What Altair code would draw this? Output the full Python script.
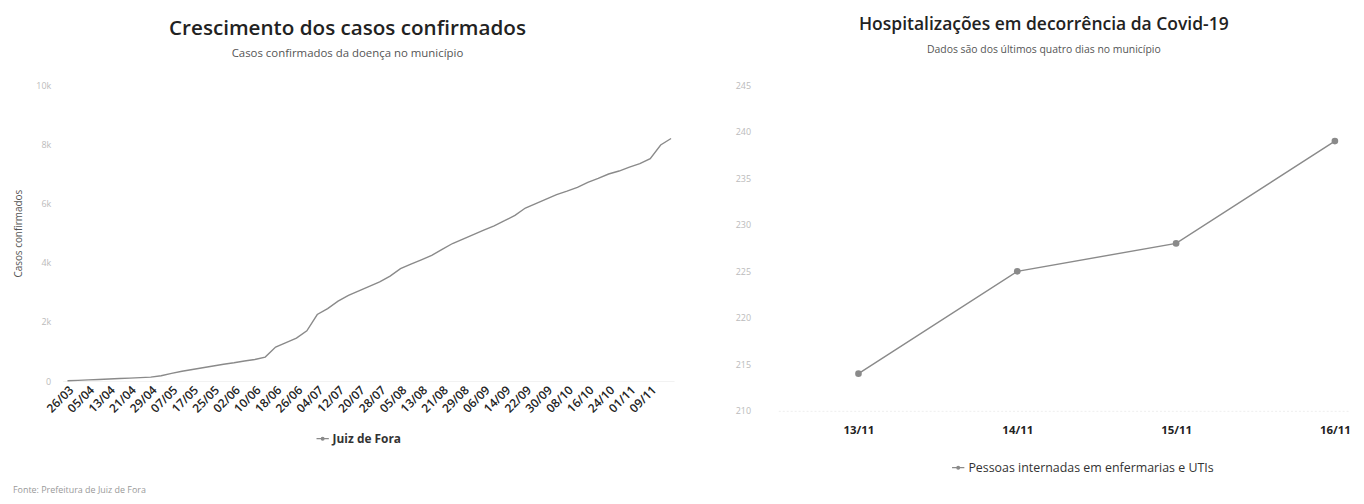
import altair as alt
import pandas as pd

# ---------- Left chart data ----------
datas = ["26/03", "30/03", "05/04", "09/04", "13/04", "17/04", "21/04", "25/04",
         "29/04", "03/05", "07/05", "12/05", "17/05", "21/05", "25/05", "29/05",
         "02/06", "06/06", "10/06", "14/06", "18/06", "22/06", "26/06", "30/06",
         "04/07", "08/07", "12/07", "16/07", "20/07", "24/07", "28/07", "01/08",
         "05/08", "09/08", "13/08", "17/08", "21/08", "25/08", "29/08", "02/09",
         "06/09", "10/09", "14/09", "18/09", "22/09", "26/09", "30/09", "04/10",
         "08/10", "12/10", "16/10", "20/10", "24/10", "28/10", "01/11", "05/11",
         "09/11", "13/11", "16/11"]
casos = [10, 25, 40, 55, 70, 85, 100, 115,
         135, 180, 260, 330, 390, 450, 510, 570,
         620, 680, 730, 810, 1150, 1300, 1450, 1700,
         2250, 2450, 2700, 2900, 3050, 3200, 3350, 3550,
         3800, 3950, 4100, 4250, 4450, 4650, 4800, 4950,
         5100, 5250, 5420, 5600, 5850, 6000, 6150, 6300,
         6420, 6550, 6720, 6850, 7000, 7100, 7230, 7350,
         7520, 7980, 8200]
rotulos_x = ["26/03", "05/04", "13/04", "21/04", "29/04", "07/05", "17/05", "25/05",
             "02/06", "10/06", "18/06", "26/06", "04/07", "12/07", "20/07", "28/07",
             "05/08", "13/08", "21/08", "29/08", "06/09", "14/09", "22/09", "30/09",
             "08/10", "16/10", "24/10", "01/11", "09/11"]
ticks_y = [0, 2000, 4000, 6000, 8000, 10000]
serie_esq = "Juiz de Fora"

# ---------- Right chart data ----------
dias = ["13/11", "14/11", "15/11", "16/11"]
internados = [214, 225, 228, 239]
ticks_dir = [210, 215, 220, 225, 230, 235, 240, 245]
serie_dir = "Pessoas internadas em enfermarias e UTIs"

titulo_esq = "Crescimento dos casos confirmados"
sub_esq = "Casos confirmados da doença no município"
titulo_dir = "Hospitalizações em decorrência da Covid-19"
sub_dir = "Dados são dos últimos quatro dias no município"
fonte = "Fonte: Prefeitura de Juiz de Fora"

FONT = "Open Sans"
GRAY = "#8a8a8a"
SYM = "M-1.6,0L-0.35,0M0.35,0L1.6,0M0.35,0A0.35,0.35 0 1,1 -0.35,0A0.35,0.35 0 1,1 0.35,0Z"

df_esq = pd.DataFrame({"data": datas, "casos": casos, "serie": serie_esq})
df_dir = pd.DataFrame({"dia": dias, "valor": internados, "serie": serie_dir})
df_fonte = pd.DataFrame({"t": [fonte]})

W1, H1 = 616, 298
W2, H2 = 575, 328

linha = alt.Chart(df_esq).mark_line(strokeWidth=1.4, clip=False).encode(
    x=alt.X("data:O", sort=datas, title=None,
            scale=alt.Scale(type="point", padding=0.38, align=0.62),
            axis=alt.Axis(values=rotulos_x, labelAngle=-45, labelFontSize=12,
                          labelFontWeight=600,
                          labelColor="#222", labelFont=FONT, ticks=False,
                          domainColor="#f2f2f2", labelPadding=3)),
    y=alt.Y("casos:Q", title="Casos confirmados",
            scale=alt.Scale(domain=[0, 10000]),
            axis=alt.Axis(values=ticks_y,
                          labelExpr="datum.value == 0 ? '0' : format(datum.value / 1000, 'd') + 'k'",
                          labelColor="#bbbbbb", labelFontSize=9, labelFont=FONT,
                          titleFont=FONT, titleFontSize=10, titleColor="#555",
                          titleFontWeight="normal", domain=False, ticks=False,
                          grid=False, labelPadding=12, titlePadding=12)),
    color=alt.Color("serie:N", scale=alt.Scale(range=[GRAY]),
                    legend=alt.Legend(orient="none", legendX=256, legendY=350,
                                      title=None, symbolType=SYM, symbolSize=60,
                                      symbolStrokeWidth=1.3, symbolStrokeColor=GRAY,
                                      symbolFillColor=GRAY,
                                      labelFont=FONT, labelFontSize=12,
                                      labelFontWeight="bold", labelColor="#333")),
)

rodape = alt.Chart(df_fonte).mark_text(align="left", baseline="middle", fontSize=9,
                                       color="#999", font=FONT).encode(
    x=alt.value(-50), y=alt.value(H1 + 110), text="t:N")

esq = alt.layer(linha, rodape).properties(
    width=W1, height=H1,
    title=alt.TitleParams(titulo_esq, subtitle=sub_esq, font=FONT, fontSize=20.8,
                          fontWeight=600, color="#222", subtitleFont=FONT,
                          subtitleFontSize=11.5, subtitleColor="#555",
                          subtitlePadding=8, offset=21, dx=-21, anchor="middle"))

base_dir = alt.Chart(df_dir).encode(
    x=alt.X("dia:O", sort=dias, title=None,
            scale=alt.Scale(type="point", padding=0.297, align=0.85),
            axis=alt.Axis(labelAngle=0, labelFontSize=11.5, labelColor="#222",
                          labelFontWeight="bold", labelFont=FONT, ticks=False,
                          domainColor="#eeeeee", domainDash=[2, 2], labelPadding=14)),
    y=alt.Y("valor:Q", title=None, scale=alt.Scale(domain=[210, 245], zero=False),
            axis=alt.Axis(values=ticks_dir,
                          labelColor="#bbbbbb", labelFontSize=9, labelFont=FONT,
                          domain=False, ticks=False, grid=False, labelPadding=28)),
    color=alt.Color("serie:N", scale=alt.Scale(range=[GRAY]),
                    legend=alt.Legend(orient="none", legendX=175, legendY=379,
                                      title=None, symbolType=SYM, symbolSize=60,
                                      symbolStrokeWidth=1.3, symbolStrokeColor=GRAY,
                                      symbolFillColor=GRAY,
                                      labelFont=FONT, labelFontSize=12.5,
                                      labelColor="#333", labelLimit=400)),
)
dir_chart = alt.layer(
    base_dir.mark_line(strokeWidth=1.4),
    base_dir.mark_point(filled=True, size=45, opacity=1),
).properties(
    width=W2, height=H2,
    title=alt.TitleParams(titulo_dir, subtitle=sub_dir, font=FONT, fontSize=17.6,
                          fontWeight=600, color="#222", subtitleFont=FONT,
                          subtitleFontSize=10.5, subtitleColor="#555",
                          subtitlePadding=12, offset=26, dx=-20, anchor="middle"))

chart = alt.hconcat(esq, dir_chart, spacing=61).resolve_scale(color="independent") \
    .configure_view(strokeWidth=0, stroke="transparent") \
    .properties(background="white")

chart.save("out.html", embed_options={"renderer": "svg", "actions": False})
